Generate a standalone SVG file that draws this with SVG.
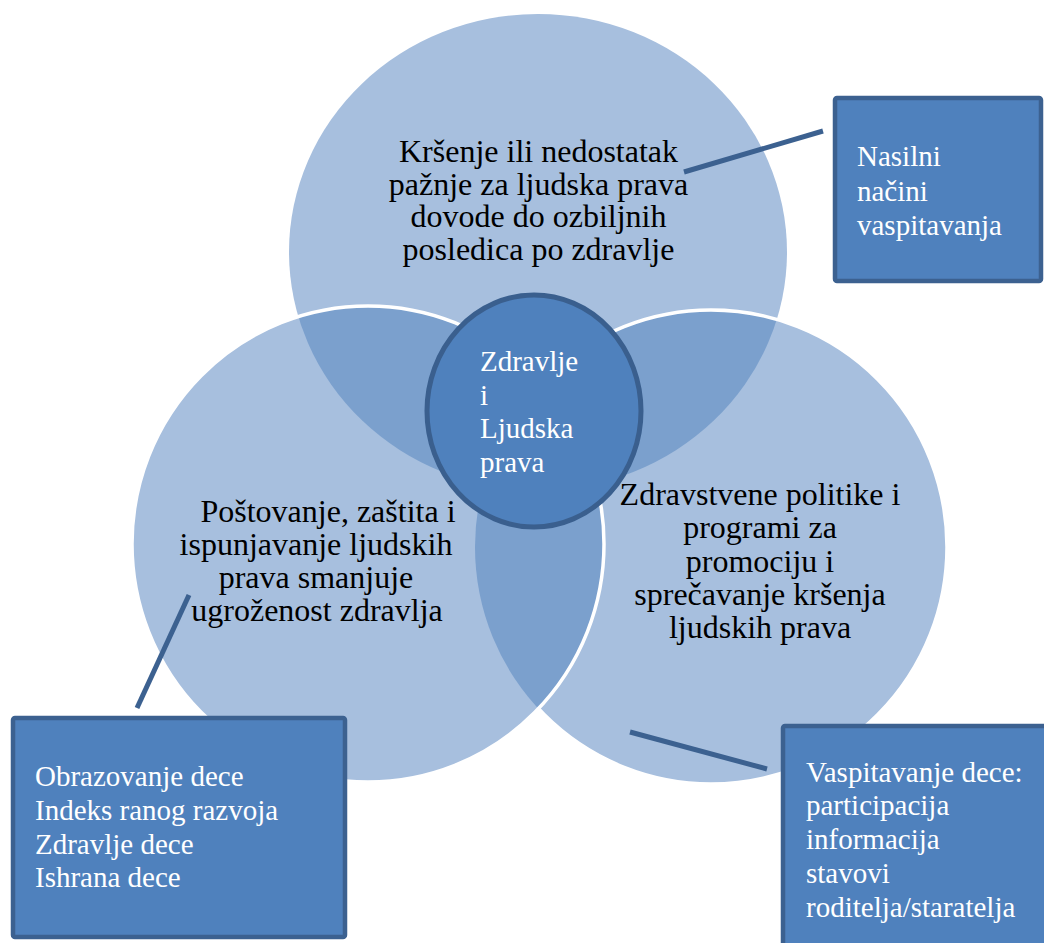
<svg xmlns="http://www.w3.org/2000/svg" width="1044" height="943" viewBox="0 0 1044 943">
<style>
.light{fill:#A7BFDE}
.dark{fill:#7BA0CD}
.wst{fill:none;stroke:#FFFFFF;stroke-width:3.5}
.box{fill:#4F81BD;stroke:#3C6190;stroke-width:4.5}
.ctr{fill:#4F81BD;stroke:#3A5F8E;stroke-width:5}
.conn{stroke:#3C6190;stroke-width:5;fill:none}
.t{font-family:"Liberation Serif","Times New Roman",serif;font-size:32px;fill:#000000;text-anchor:middle}
.w{font-family:"Liberation Serif","Times New Roman",serif;font-size:29px;fill:#FFFFFF}
</style>
<defs>
<clipPath id="cL"><ellipse cx="368" cy="544" rx="236" ry="238"/></clipPath>
<clipPath id="cR"><ellipse cx="711" cy="547" rx="236" ry="237"/></clipPath>
<clipPath id="notL"><path clip-rule="evenodd" d="M-10 -10H1054V953H-10Z M132 544a236 238 0 1 0 472 0a236 238 0 1 0 -472 0Z"/></clipPath>
</defs>
<g id="venn-shapes">
<ellipse class="light" cx="538" cy="252" rx="249" ry="238"/>
<ellipse class="light" cx="711" cy="547" rx="236" ry="237"/>
<ellipse class="light" cx="368" cy="544" rx="236" ry="238"/>
<ellipse class="dark" cx="538" cy="252" rx="249" ry="238" clip-path="url(#cL)"/>
<ellipse class="dark" cx="538" cy="252" rx="249" ry="238" clip-path="url(#cR)"/>
<ellipse class="dark" cx="368" cy="544" rx="236" ry="238" clip-path="url(#cR)"/>
<ellipse class="wst" cx="711" cy="547" rx="236" ry="237" clip-path="url(#notL)"/>
<ellipse class="wst" cx="368" cy="544" rx="236" ry="238"/>
</g>
<g id="circle-top">
<text class="t" x="538.5" y="162">Kršenje ili nedostatak</text>
<text class="t" x="538.5" y="194.5">pažnje za ljudska prava</text>
<text class="t" x="538.5" y="227">dovode do ozbiljnih</text>
<text class="t" x="538.5" y="259.5">posledica po zdravlje</text>
</g>
<g id="circle-left">
<text class="t" x="328" y="522">Poštovanje, zaštita i</text>
<text class="t" x="316" y="555">ispunjavanje ljudskih</text>
<text class="t" x="316" y="588">prava smanjuje</text>
<text class="t" x="317" y="621">ugroženost zdravlja</text>
</g>
<g id="circle-right">
<text class="t" x="760" y="505">Zdravstvene politike i</text>
<text class="t" x="760" y="538">programi za</text>
<text class="t" x="760" y="572">promociju i</text>
<text class="t" x="760" y="605">sprečavanje kršenja</text>
<text class="t" x="760" y="638">ljudskih prava</text>
</g>
<g id="center">
<ellipse class="ctr" cx="534" cy="411" rx="107" ry="116"/>
<text class="w" x="480" y="371">Zdravlje</text>
<text class="w" x="480" y="404.5">i</text>
<text class="w" x="480" y="438">Ljudska</text>
<text class="w" x="480" y="471.5">prava</text>
</g>
<g id="connectors">
<line class="conn" x1="684" y1="172" x2="823" y2="131"/>
<line class="conn" x1="189" y1="595" x2="137" y2="708"/>
<line class="conn" x1="630" y1="732" x2="767" y2="769"/>
</g>
<g id="box-top">
<rect class="box" x="835" y="98" width="206" height="183" rx="2"/>
<text class="w" x="857" y="166">Nasilni</text>
<text class="w" x="857" y="201">načini</text>
<text class="w" x="857" y="235">vaspitavanja</text>
</g>
<g id="box-left">
<rect class="box" x="13" y="718" width="332" height="219" rx="2"/>
<text class="w" x="35" y="786">Obrazovanje dece</text>
<text class="w" x="35" y="820">Indeks ranog razvoja</text>
<text class="w" x="35" y="854">Zdravlje dece</text>
<text class="w" x="35" y="887">Ishrana dece</text>
</g>
<g id="box-right">
<rect class="box" x="783" y="726" width="290" height="250" rx="2"/>
<text class="w" x="806" y="782">Vaspitavanje dece:</text>
<text class="w" x="806" y="815">participacija</text>
<text class="w" x="806" y="849">informacija</text>
<text class="w" x="806" y="883">stavovi</text>
<text class="w" x="806" y="917">roditelja/staratelja</text>
</g>
</svg>
